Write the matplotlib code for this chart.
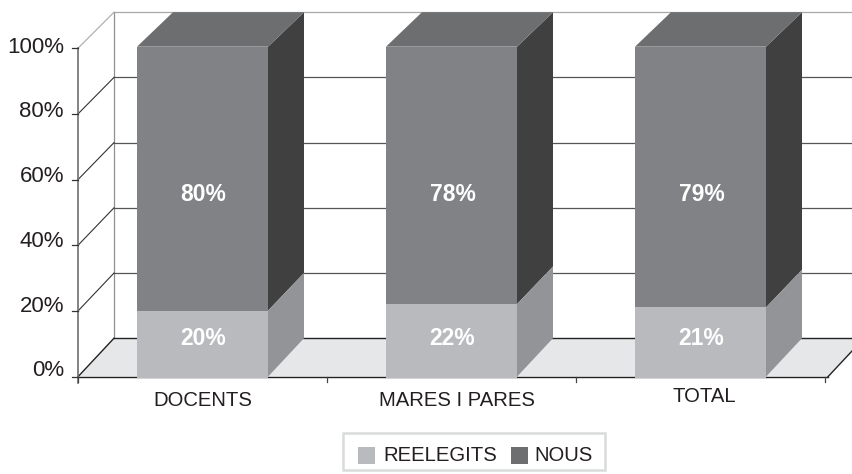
import matplotlib
matplotlib.use("Agg")
import matplotlib.pyplot as plt
from matplotlib.patches import Polygon, Rectangle

plt.rcParams["font.family"] = ["Liberation Sans", "DejaVu Sans"]

categories = ["DOCENTS", "MARES I PARES", "TOTAL"]
reelegits = [20, 22, 21]
nous = [80, 78, 79]
y_ticks = [0, 20, 40, 60, 80, 100]
series_names = ["REELEGITS", "NOUS"]

# pixel layout of the fake 3d box
X0, STEP, BAR_W = 78, 249, 131
Y0, PX_PER_PCT = 376.7, 3.3
BACK_Y0, BACK_PX_PER_PCT = 338.2, 3.26
TICK_PX_PER_PCT = 3.285
DX = 36
label_dx = [0, 5, 3.5]
label_y = [400, 401, 396]


def yp(v):
    return Y0 - v * PX_PER_PCT


def yb(v):
    return BACK_Y0 - v * BACK_PX_PER_PCT


def yt(v):
    return Y0 - v * TICK_PX_PER_PCT


def box(ax, x, w, v0, v1, front, side, top=None):
    ax.add_patch(Polygon([(x + w, yp(v0)), (x + w + DX, yb(v0)), (x + w + DX, yb(v1)), (x + w, yp(v1))], fc=side, ec="none", zorder=3))
    if top:
        ax.add_patch(Polygon([(x, yp(v1)), (x + DX, yb(v1)), (x + w + DX, yb(v1)), (x + w, yp(v1))], fc=top, ec="none", zorder=3))
    ax.add_patch(Rectangle((x, yp(v1)), w, yp(v0) - yp(v1) + 1, fc=front, ec="none", zorder=4))


fig = plt.figure(figsize=(8.52, 4.74), dpi=100)
ax = fig.add_axes([0, 0, 1, 1])
ax.set_xlim(0, 852)
ax.set_ylim(474, 0)
ax.axis("off")

x_end = X0 + STEP * len(categories)
floor_end = x_end + 3

# floor
ax.add_patch(Polygon([(X0, Y0), (X0 + DX, BACK_Y0), (floor_end + DX, BACK_Y0), (floor_end, Y0)], fc="#e6e7e8", ec="none", zorder=1))
ax.plot([X0, floor_end], [Y0, Y0], color="#222222", lw=1, zorder=2)
ax.plot([X0 + DX, floor_end + DX], [BACK_Y0, BACK_Y0], color="#222222", lw=1, zorder=2)
ax.plot([X0, X0 + DX], [Y0, BACK_Y0], color="#222222", lw=1, zorder=2)
ax.plot([floor_end, floor_end + DX], [Y0, BACK_Y0], color="#222222", lw=1, zorder=2)

# walls and gridlines
ax.plot([X0 + DX, X0 + DX], [yb(100), BACK_Y0], color="#909090", lw=0.9, zorder=1)
for t in y_ticks[1:]:
    grid_col = "#555555" if t < 100 else "#a8a8a8"
    diag_col = "#333333" if t < 100 else "#a8a8a8"
    ax.plot([X0 + DX, floor_end + DX], [yb(t), yb(t)], color=grid_col, lw=0.9, zorder=1)
    ax.plot([X0, X0 + DX], [yt(t), yb(t)], color=diag_col, lw=0.8, zorder=1)

# axis lines and ticks
ax.plot([X0, X0], [yt(100), Y0 + 6], color="#6d6e70", lw=1.2, zorder=2)
for t in y_ticks:
    ax.plot([X0 - 6, X0], [yt(t), yt(t)], color="#333333", lw=0.9, zorder=2)
    # labels sit on a slightly tighter scale than the ticks in the source
    ax.text(64, 371 - t * 3.24, f"{t}%", ha="right", va="center", fontsize=16, color="#231f20")
for i in range(len(categories) + 1):
    ax.plot([X0 + STEP * i] * 2, [Y0, Y0 + 5], color="#444444", lw=0.9, zorder=2)

# bars
for i, cat in enumerate(categories):
    x = X0 + STEP * i + (STEP - BAR_W) / 2
    r, n = reelegits[i], nous[i]
    box(ax, x, BAR_W, r, 100, "#808285", "#404040", "#6d6e70")
    box(ax, x, BAR_W, 0, r, "#b9babe", "#929497")
    cx = x + BAR_W / 2
    ax.text(cx + 1, 338.5, f"{r}%", ha="center", va="center", fontsize=16.5, fontweight="bold", color="white", zorder=5)
    ax.text(cx + 1, 194.5, f"{n}%", ha="center", va="center", fontsize=16.5, fontweight="bold", color="white", zorder=5)
    ax.text(cx + label_dx[i], label_y[i], cat, ha="center", va="center", fontsize=14.6, color="#231f20")

# legend
ax.add_patch(Rectangle((343, 433), 262, 37, fc="white", ec="#d9dadb", lw=1.8, zorder=2))
ax.add_patch(Rectangle((358, 447), 17, 17, fc="#b9babe", ec="none", zorder=3))
ax.text(383, 455.5, series_names[0], ha="left", va="center", fontsize=14.6, color="#231f20")
ax.add_patch(Rectangle((511, 447), 17, 17, fc="#6d6e70", ec="none", zorder=3))
ax.text(534, 455.5, series_names[1], ha="left", va="center", fontsize=14.6, color="#231f20")

fig.savefig("out.png", dpi=100)
